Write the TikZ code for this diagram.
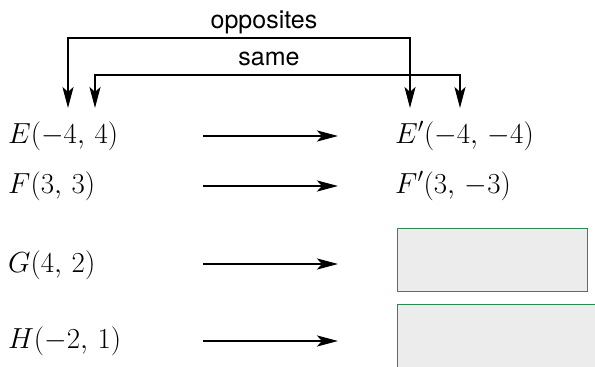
\RequirePackage{fix-cm}
\documentclass[tikz,border=0pt]{standalone}
\usepackage{fontspec}
\setsansfont{TeX Gyre Heros}
\usetikzlibrary{arrows.meta}
\definecolor{cajaverde}{RGB}{40,140,80}
\definecolor{cajagris}{RGB}{236,236,236}

\begin{document}
\begin{tikzpicture}[
    x=1pt,
    y=-1pt,
    >={Stealth[length=21pt,width=11pt,inset=5pt]},
    font=\fontsize{29}{34}\selectfont,
    punto/.style={anchor=west,inner sep=0pt},
    mapeo/.style={line width=2.6pt,->},
    llave/.style={line width=2.4pt,<->},
    rotulo/.style={font=\sffamily\fontsize{25}{30}\selectfont,inner sep=0pt,anchor=base},
    caja/.style={draw=cajaverde,fill=cajagris,line width=1.3pt,anchor=north west}
]
    \useasboundingbox (0,0) rectangle (595,367);

    % Puntos originales
    \node[punto] (E) at (8,136) {$E(-4,\,4)$};
    \node[punto] (F) at (8,186) {$F(3,\,3)$};
    \node[punto] (G) at (8,265) {$G(4,\,2)$};
    \node[punto] (H) at (8,341) {$H(-2,\,1)$};

    % Imagenes
    \node[punto] (Ep) at (395,136) {$E'(-4,\,-4)$};
    \node[punto] (Fp) at (395,186) {$F'(3,\,-3)$};
    \node[caja,minimum width=190pt,minimum height=63pt] (Gp) at (397,228) {};
    \node[caja,minimum width=210pt,minimum height=75pt] (Hp) at (397,304) {};

    % Flechas de cada fila
    \foreach \n/\y in {E/136,F/186,G/264,H/341} {
        \coordinate (\n a) at (203,\y);
        \coordinate (\n b) at (338,\y);
        \draw[mapeo] (\n a) -- (\n b);
    }

    % Llaves de arriba
    \coordinate (oa) at (68,108);
    \coordinate (ob) at (410,108);
    \coordinate (sa) at (95,108);
    \coordinate (sb) at (460,108);
    \draw[llave] (oa) |- (240,38) -| (ob);
    \draw[llave] (sa) |- (240,75) -| (sb);
    \node[rotulo] (opp) at (264,28) {opposites};
    \node[rotulo] (same) at (269,65) {same};
\end{tikzpicture}
\end{document}
